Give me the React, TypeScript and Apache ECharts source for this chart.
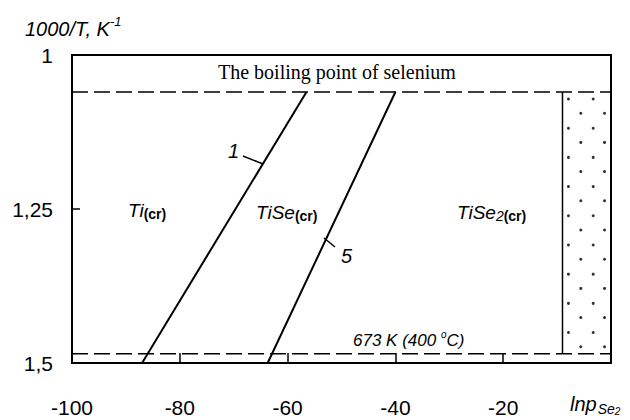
import React, { useEffect, useRef } from "react";
import * as echarts from "echarts";

// Axis ranges / ticks
const xMin = -100;
const xMax = 0;
const xStep = 20;
const yMin = 1;
const yMax = 1.5;
const yStep = 0.25;

// Horizontal reference levels (1000/T)
const boilingLevel = 1.06; // boiling point of selenium
const level673K = 1.485; // 673 K (400 °C)

// Phase boundary lines (lnp, 1000/T)
const line1X = [-56.5, -87];
const line1Y = [1.06, 1.5];
const line5X = [-40, -63.7];
const line5Y = [1.06, 1.5];

// Liquid-Se region boundary (dotted area from here to the right edge)
const liquidBoundaryX = -9;

// Stipple texture parameters for the dotted region
const stippleColsA = [-7.9, -3.3];
const stippleColsB = [-5.6, -1.2];
const stippleRowStartA = 1.0714;
const stippleRowStartB = 1.0945;
const stippleRowStep = 0.0474;
const stippleRows = 9;

const FONT = "Liberation Sans";

export default function App() {
  const ref = useRef<HTMLDivElement>(null);

  useEffect(() => {
    if (!ref.current) return;
    const chart = echarts.init(ref.current, null, { renderer: "svg" });

    const stipple: number[][] = [];
    for (let i = 0; i < stippleRows; i++) {
      stippleColsA.forEach((x) => stipple.push([x, stippleRowStartA + i * stippleRowStep]));
      stippleColsB.forEach((x) => stipple.push([x, stippleRowStartB + i * stippleRowStep]));
    }

    const black = "#000";
    const line1 = line1X.map((x, i) => [x, line1Y[i]]);
    const line5 = line5X.map((x, i) => [x, line5Y[i]]);

    const subRich = {
      a: { fontSize: 19, fontStyle: "italic", lineHeight: 20, verticalAlign: "top", fontFamily: FONT, color: black },
      c: { fontSize: 14, fontStyle: "italic", lineHeight: 16, verticalAlign: "bottom", fontFamily: FONT, color: black },
      b: { fontSize: 14, fontWeight: "bold", lineHeight: 16, verticalAlign: "bottom", fontFamily: FONT, color: black },
    };

    chart.setOption({
      animation: false,
      backgroundColor: "#fff",
      textStyle: { fontFamily: FONT, color: black },
      grid: {
        left: 72,
        top: 55,
        width: 539,
        height: 308,
        show: true,
        borderColor: black,
        borderWidth: 2,
        backgroundColor: "transparent",
      },
      xAxis: {
        type: "value",
        min: xMin,
        max: xMax,
        interval: xStep,
        axisLine: { show: true, onZero: false, lineStyle: { color: black, width: 2 } },
        axisTick: { show: true, inside: true, length: 10, lineStyle: { color: black, width: 1.5 } },
        splitLine: { show: false },
        axisLabel: {
          color: black,
          fontSize: 21,
          fontFamily: FONT,
          margin: 34,
          showMaxLabel: false,
          formatter: (v: number) => (v === xMax ? "" : String(v)),
        },
      },
      yAxis: {
        type: "value",
        inverse: true,
        min: yMin,
        max: yMax,
        interval: yStep,
        axisLine: { show: true, onZero: false, lineStyle: { color: black, width: 2 } },
        axisTick: { show: true, inside: true, length: 8, lineStyle: { color: black, width: 1.5 } },
        splitLine: { show: false },
        axisLabel: {
          color: black,
          fontSize: 21,
          fontFamily: FONT,
          margin: 19,
          padding: [7, 0, 0, 0],
          formatter: (v: number) => String(v).replace(".", ","),
        },
      },
      series: [
        {
          type: "line",
          data: [
            [xMin, boilingLevel],
            [xMax, boilingLevel],
          ],
          symbol: "none",
          lineStyle: { color: black, width: 1.5, type: [16, 6] },
          silent: true,
        },
        {
          type: "line",
          data: [
            [xMin, level673K],
            [xMax, level673K],
          ],
          symbol: "none",
          lineStyle: { color: black, width: 1.5, type: [16, 6] },
          silent: true,
        },
        {
          type: "line",
          data: [
            [liquidBoundaryX, boilingLevel],
            [liquidBoundaryX, level673K],
          ],
          symbol: "none",
          lineStyle: { color: black, width: 1.5 },
          silent: true,
        },
        {
          type: "line",
          data: line1,
          symbol: "none",
          lineStyle: { color: black, width: 2 },
          silent: true,
        },
        {
          type: "line",
          data: line5,
          symbol: "none",
          lineStyle: { color: black, width: 2 },
          silent: true,
        },
        {
          type: "scatter",
          data: stipple,
          symbol: "circle",
          symbolSize: 3,
          itemStyle: { color: black },
          silent: true,
        },
      ],
      graphic: [
        {
          type: "text",
          left: 25,
          top: 15,
          style: {
            text: "{a|1000/T, K}{s|-1}",
            rich: {
              a: { fontSize: 20, fontStyle: "italic", lineHeight: 24, verticalAlign: "bottom", fontFamily: FONT, color: black },
              s: { fontSize: 13, fontStyle: "italic", lineHeight: 14, verticalAlign: "top", fontFamily: FONT, color: black },
            },
          },
        },
        {
          type: "text",
          left: 218,
          top: 62,
          style: {
            text: "The boiling point of selenium",
            font: '20px "Liberation Serif"',
            fill: black,
          },
        },
        {
          type: "text",
          left: 353,
          top: 329,
          style: {
            text: "{a|673 K (400 }{s|o}{a|C)}",
            rich: {
              a: { fontSize: 17, fontStyle: "italic", lineHeight: 20, verticalAlign: "bottom", fontFamily: FONT, color: black },
              s: { fontSize: 10, fontStyle: "italic", lineHeight: 12, verticalAlign: "top", fontFamily: FONT, color: black },
            },
          },
        },
        {
          type: "text",
          left: 128,
          top: 201,
          style: { text: "{a|Ti}{b|(cr)}", rich: subRich },
        },
        {
          type: "text",
          left: 256,
          top: 203,
          style: { text: "{a|TiSe}{b|(cr)}", rich: subRich },
        },
        {
          type: "text",
          left: 457,
          top: 203,
          style: { text: "{a|TiSe}{c|2}{b|(cr)}", rich: subRich },
        },
        {
          type: "text",
          left: 228,
          top: 141,
          style: { text: "1", font: `italic 20px "${FONT}"`, fill: black },
        },
        {
          type: "line",
          shape: { x1: 243, y1: 156, x2: 263, y2: 164 },
          style: { stroke: black, lineWidth: 1.5 },
        },
        {
          type: "text",
          left: 341,
          top: 246,
          style: { text: "5", font: `italic 20px "${FONT}"`, fill: black },
        },
        {
          type: "line",
          shape: { x1: 324, y1: 238, x2: 335, y2: 247 },
          style: { stroke: black, lineWidth: 1.5 },
        },
        {
          type: "text",
          left: 570,
          top: 394,
          style: {
            text: "{a|lnp}{b|Se}{c|2}",
            rich: {
              a: { fontSize: 20, fontStyle: "italic", lineHeight: 22, verticalAlign: "top", fontFamily: FONT, color: black },
              b: { fontSize: 14, fontStyle: "italic", lineHeight: 16, verticalAlign: "bottom", fontFamily: FONT, color: black, padding: [0, 0, 0, 1] },
              c: { fontSize: 10, fontStyle: "italic", lineHeight: 12, verticalAlign: "bottom", fontFamily: FONT, color: black },
            },
          },
        },
      ],
    });

    return () => chart.dispose();
  }, []);

  return (
    <div
      ref={ref}
      style={{ position: "fixed", left: 0, top: 0, width: 630, height: 420 }}
    />
  );
}
